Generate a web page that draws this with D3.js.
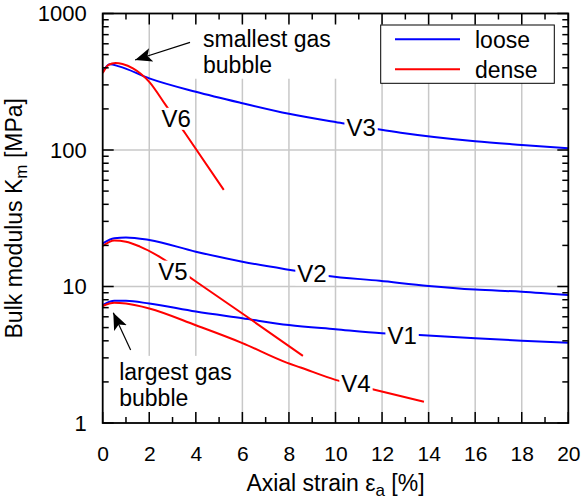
<!DOCTYPE html>
<html lang="en">
<head>
<meta charset="UTF-8">
<title>Bulk modulus vs axial strain</title>
<script src="https://d3js.org/d3.v7.min.js"></script>
<style>
  body { margin: 0; background: #fff; }
  text { font-family: "Liberation Sans", Arial, Helvetica, sans-serif; fill: #000; }
</style>
</head>
<body>
<div id="chart"></div>
<script>
// values: axial strain [%] -> bulk modulus [MPa]
var v1Strain = [0, 0.5, 1.0, 2.0, 4.0, 6.0, 8.0, 10.0, 12.0, 13.6, 16.0, 18.0, 20.0];
var v1K      = [7.3, 7.85, 7.85, 7.5, 6.55, 5.85, 5.22, 4.86, 4.54, 4.41, 4.17, 4.01, 3.87];
var v2Strain = [0, 0.5, 1.0, 2.0, 4.0, 6.0, 8.2, 9.6, 11.9, 14.0, 16.0, 18.0, 20.0];
var v2K      = [20.7, 22.6, 22.9, 21.9, 18.0, 15.2, 13.1, 12.0, 11.0, 10.1, 9.5, 9.15, 8.65];
var v3Strain = [0, 0.3, 0.7, 2.0, 4.0, 6.0, 8.0, 10.3, 12.8, 16.0, 18.0, 20.0];
var v3K      = [375, 425, 410, 335, 267, 220, 184, 157, 134, 116, 109, 103];
var v4Strain = [0, 0.5, 1.0, 2.0, 4.0, 6.0, 7.9, 8.5, 10.0, 11.5, 13.8];
var v4K      = [7.2, 7.6, 7.5, 6.9, 5.2, 3.85, 2.77, 2.55, 2.07, 1.78, 1.43];
var v5Strain = [0, 0.5, 1.0, 1.6, 2.5, 3.7, 6.2, 8.6];
var v5K      = [19.8, 21.7, 21.3, 19.6, 16.3, 11.8, 6.0, 3.1];
var v6Strain = [0, 0.25, 0.55, 0.85, 1.3, 2.0, 2.7, 3.55, 5.2];
var v6K      = [366, 420, 434, 427, 397, 316, 214, 132, 51];

var series = [
  {name: "V1", kind: "loose", strain: v1Strain, k: v1K, at: [12.86, 4.42]},
  {name: "V2", kind: "loose", strain: v2Strain, k: v2K, at: [8.99, 12.4]},
  {name: "V3", kind: "loose", strain: v3Strain, k: v3K, at: [11.1, 147]},
  {name: "V4", kind: "dense", strain: v4Strain, k: v4K, at: [10.88, 1.96]},
  {name: "V5", kind: "dense", strain: v5Strain, k: v5K, at: [3.02, 13.0]},
  {name: "V6", kind: "dense", strain: v6Strain, k: v6K, at: [3.16, 171]}
];

var xTicks = [0, 2, 4, 6, 8, 10, 12, 14, 16, 18, 20];
var yTicks = [1, 10, 100, 1000];
var legendItems = ["loose", "dense"];
var colors = {loose: "#0000ff", dense: "#ff0000"};

// annotations in data units: text anchor, arrow tail, arrow tip
var notes = [
  {lines: ["smallest gas", "bubble"], text: [4.31, 571], tail: [3.75, 615], tip: [1.39, 456]},
  {lines: ["largest gas", "bubble"], text: [0.71, 2.07], tail: [1.2, 3.43], tip: [0.455, 6.43]}
];

var W = 581, H = 502;
var margin = {top: 13.5, right: 12.7, bottom: 79, left: 102.7};
var width = W - margin.left - margin.right,
    height = H - margin.top - margin.bottom;

var svg = d3.select("#chart").append("svg")
    .attr("width", W).attr("height", H);

svg.append("defs").append("marker")
    .attr("id", "head")
    .attr("markerUnits", "userSpaceOnUse")
    .attr("markerWidth", 18).attr("markerHeight", 14)
    .attr("viewBox", "0 0 18 14")
    .attr("refX", 17).attr("refY", 7)
    .attr("orient", "auto")
  .append("path")
    .attr("d", "M0,0 L17,7 L0,14 L4,7 Z")
    .attr("fill", "#000");

var g = svg.append("g")
    .attr("transform", "translate(" + margin.left + "," + margin.top + ")");

var x = d3.scaleLinear().domain([0, 20]).range([0, width]);
var y = d3.scaleLog().domain([1, 1000]).range([height, 0]);

// grid
g.append("g").selectAll("line")
  .data(xTicks.filter(function(d) { return d > 0 && d < 20; }))
  .enter().append("line")
    .attr("x1", function(d) { return x(d); }).attr("x2", function(d) { return x(d); })
    .attr("y1", 0).attr("y2", height)
    .attr("stroke", "#c8c8c8").attr("stroke-width", 1.5);
g.append("g").selectAll("line")
  .data([10, 100])
  .enter().append("line")
    .attr("x1", 0).attr("x2", width)
    .attr("y1", function(d) { return y(d); }).attr("y2", function(d) { return y(d); })
    .attr("stroke", "#c8c8c8").attr("stroke-width", 1.5);

// annotation text on white boxes (they hide the grid)
var noteG = g.append("g");
notes.forEach(function(n) {
  var t = noteG.append("text")
      .attr("x", x(n.text[0])).attr("y", y(n.text[1]))
      .style("font-size", "23px");
  n.lines.forEach(function(s, i) {
    t.append("tspan").attr("x", x(n.text[0])).attr("dy", i === 0 ? 0 : 26).text(s);
  });
  var b = t.node().getBBox();
  noteG.insert("rect", "text")
      .attr("x", b.x - 9).attr("y", b.y - 3)
      .attr("width", b.width + 16).attr("height", b.height + 4)
      .attr("fill", "#fff");
  noteG.append("line")
      .attr("x1", x(n.tail[0])).attr("y1", y(n.tail[1]))
      .attr("x2", x(n.tip[0])).attr("y2", y(n.tip[1]))
      .attr("stroke", "#000").attr("stroke-width", 1.2)
      .attr("marker-end", "url(#head)");
});

// curves
var line = d3.line()
    .x(function(d) { return x(d[0]); })
    .y(function(d) { return y(d[1]); })
    .curve(d3.curveMonotoneX);

g.append("g").selectAll("path")
  .data(series)
  .enter().append("path")
    .attr("d", function(s) { return line(d3.zip(s.strain, s.k)); })
    .attr("fill", "none")
    .attr("stroke", function(s) { return colors[s.kind]; })
    .attr("stroke-width", 2);

// curve labels
var labG = g.append("g");
series.forEach(function(s) {
  var t = labG.append("text")
      .attr("x", x(s.at[0])).attr("y", y(s.at[1]))
      .attr("text-anchor", "middle").attr("dy", "0.36em")
      .style("font-size", "24px")
      .text(s.name);
  var b = t.node().getBBox();
  labG.insert("rect", "text")
      .attr("x", b.x - 2).attr("y", b.y + 3)
      .attr("width", b.width + 4).attr("height", b.height - 5)
      .attr("fill", "#fff");
});

// legend
var leg = g.append("g").attr("transform", "translate(" + (width - 187.6) + ",11.5)");
leg.append("rect")
    .attr("width", 173.6).attr("height", 58.3)
    .attr("fill", "#fff").attr("stroke", "#000").attr("stroke-width", 1);
legendItems.forEach(function(k, i) {
  leg.append("line")
      .attr("x1", 14.3).attr("x2", 79.3)
      .attr("y1", 14.3 + i * 30).attr("y2", 14.3 + i * 30)
      .attr("stroke", colors[k]).attr("stroke-width", 2);
  leg.append("text")
      .attr("x", 94.3).attr("y", 14.3 + i * 30).attr("dy", "0.36em")
      .style("font-size", "23px")
      .text(k);
});

// axis labels
g.append("g")
    .attr("transform", "translate(0," + height + ")")
    .call(d3.axisBottom(x).tickValues(xTicks).tickSize(0).tickPadding(23))
    .call(function(a) { a.select(".domain").remove(); })
    .selectAll("text").style("font-size", "21px").attr("fill", "#000");

g.append("g")
    .call(d3.axisLeft(y).tickValues(yTicks).tickSize(0).tickPadding(16)
      .tickFormat(d3.format("d")))
    .call(function(a) { a.select(".domain").remove(); })
    .selectAll("text").style("font-size", "22px").attr("fill", "#000");

// inward ticks on all four sides
var xMinor = d3.range(0, 21, 1);
var yMinor = [];
[1, 10, 100].forEach(function(dec) {
  for (var m = 2; m <= 9; m++) yMinor.push(dec * m);
});
var tk = g.append("g").attr("stroke", "#000").attr("stroke-width", 1.5);
xMinor.forEach(function(v) {
  var len = v % 2 === 0 ? 11 : 6;
  tk.append("line").attr("x1", x(v)).attr("x2", x(v)).attr("y1", height).attr("y2", height - len);
  tk.append("line").attr("x1", x(v)).attr("x2", x(v)).attr("y1", 0).attr("y2", len);
});
yTicks.concat(yMinor).forEach(function(v) {
  var len = yTicks.indexOf(v) >= 0 ? 11 : 6;
  tk.append("line").attr("x1", 0).attr("x2", len).attr("y1", y(v)).attr("y2", y(v));
  tk.append("line").attr("x1", width).attr("x2", width - len).attr("y1", y(v)).attr("y2", y(v));
});

g.append("rect")
    .attr("width", width).attr("height", height)
    .attr("fill", "none").attr("stroke", "#000").attr("stroke-width", 1.8);

// axis titles
var xt = svg.append("text")
    .attr("x", margin.left + width / 2).attr("y", 491)
    .attr("text-anchor", "middle")
    .style("font-size", "23px");
xt.append("tspan").text("Axial strain \u03b5");
xt.append("tspan").attr("dy", 5).style("font-size", "17px").text("a");
xt.append("tspan").attr("dy", -5).text(" [%]");

var yt = svg.append("text")
    .attr("transform", "translate(21.5," + (margin.top + height / 2) + ") rotate(-90)")
    .attr("text-anchor", "middle")
    .style("font-size", "23px");
yt.append("tspan").text("Bulk modulus K");
yt.append("tspan").attr("dy", 5).style("font-size", "17px").text("m");
yt.append("tspan").attr("dy", -5).text(" [MPa]");
</script>
</body>
</html>
